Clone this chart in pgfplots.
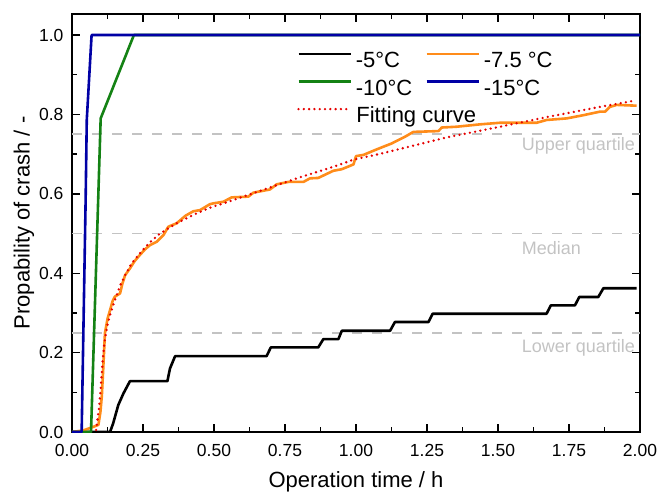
\documentclass[border=0pt]{standalone}
\usepackage{fontspec}
\setmainfont{Liberation Sans}
\usepackage{pgfplots}
\pgfplotsset{compat=1.18}
\definecolor{corange}{RGB}{255,140,26}
\definecolor{cgreen}{RGB}{20,130,20}
\definecolor{cblue}{RGB}{0,0,165}
\definecolor{cred}{RGB}{230,0,0}
\definecolor{cgray}{RGB}{195,195,195}

\begin{document}
\begin{tikzpicture}
\path[use as bounding box] (-72pt,-60pt) rectangle (588pt,432pt);
\begin{axis}[
  at={(0pt,0pt)}, anchor=south west,
  width=568pt, height=418pt, scale only axis,
  xmin=0, xmax=2, ymin=0, ymax=1.053,
  xtick={0,0.25,0.5,0.75,1,1.25,1.5,1.75,2},
  ytick={0,0.2,0.4,0.6,0.8,1},
  minor x tick num=1, minor y tick num=1,
  tick align=inside,
  major tick length=8pt, minor tick length=5pt,
  xticklabel style={yshift=-9pt, /pgf/number format/.cd, fixed, fixed zerofill, precision=2},
  yticklabel style={xshift=-5pt, /pgf/number format/.cd, fixed, fixed zerofill, precision=1},
  /pgf/number format/assume math mode=true,
  tick label style={font=\fontsize{17.5}{20}\selectfont},
  label style={font=\fontsize{22}{26}\selectfont},
  xlabel={Operation time / h},
  ylabel={Propability of crash / -},
  xlabel style={at={(axis description cs:0.5,-0.12)}, anchor=center},
  ylabel style={at={(axis description cs:-0.0845,0.5)}, anchor=center},
  axis line style={line width=1.6pt},
  every tick/.style={black, line width=1.4pt},
  legend columns=2,
  legend cell align=left,
  legend style={draw=none, fill=none, inner sep=0pt, outer sep=0pt,
    at={(axis cs:0.793,0.957)}, anchor=north west, row sep=7.5pt,
    nodes={inner sep=0pt, text height=15.5pt, text depth=4.5pt},
    font=\fontsize{22}{26}\selectfont,
    /tikz/every odd column/.append style={column sep=4pt},
    /tikz/every even column/.append style={column sep=13pt}},
  legend image code/.code={\draw[#1] (0pt,8pt) -- (52pt,8pt);},
]
% quartile guide lines
\addplot[cgray, line width=1.7pt, dash pattern=on 10pt off 10pt, forget plot] coordinates {(0,0.25) (2,0.25)};
\addplot[cgray, line width=1.7pt, dash pattern=on 10pt off 10pt, forget plot] coordinates {(0,0.5) (2,0.5)};
\addplot[cgray, line width=1.7pt, dash pattern=on 10pt off 10pt, forget plot] coordinates {(0,0.75) (2,0.75)};

% -5 C
\addplot[black, line width=2.6pt, line join=round] coordinates {
(0,0) (0.134,0) (0.145,0.022) (0.163,0.068) (0.181,0.097) (0.204,0.128)
(0.336,0.128) (0.345,0.16) (0.363,0.191) (0.685,0.191) (0.70,0.213)
(0.867,0.213) (0.885,0.234) (0.938,0.234) (0.95,0.255) (1.12,0.255)
(1.137,0.277) (1.255,0.277) (1.27,0.298) (1.671,0.298) (1.686,0.319)
(1.771,0.319) (1.786,0.340) (1.853,0.340) (1.871,0.362) (1.988,0.362)};

% -7.5 C
\addplot[corange, line width=2.6pt, line join=round] coordinates {
(0,0) (0.04,0.004) (0.075,0.013) (0.093,0.018) (0.10,0.05) (0.105,0.09)
(0.11,0.16) (0.116,0.249) (0.125,0.285) (0.134,0.307) (0.143,0.33)
(0.151,0.341) (0.169,0.349) (0.178,0.375) (0.187,0.395) (0.204,0.412)
(0.22,0.43) (0.239,0.446) (0.257,0.46) (0.275,0.471) (0.298,0.479)
(0.322,0.496) (0.339,0.517) (0.369,0.526) (0.40,0.545) (0.427,0.556)
(0.451,0.559) (0.486,0.574) (0.498,0.576) (0.533,0.580) (0.562,0.591)
(0.621,0.593) (0.639,0.603) (0.697,0.611) (0.721,0.624) (0.762,0.630)
(0.815,0.630) (0.838,0.639) (0.867,0.640) (0.92,0.658) (0.95,0.662)
(0.991,0.674) (1.0,0.695) (1.026,0.698) (1.073,0.712) (1.126,0.727)
(1.173,0.744) (1.202,0.756) (1.29,0.758) (1.302,0.767) (1.354,0.769)
(1.437,0.775) (1.507,0.779) (1.636,0.779) (1.671,0.786) (1.742,0.790)
(1.80,0.798) (1.859,0.807) (1.877,0.807) (1.894,0.819) (1.918,0.824)
(1.988,0.822)};

% -10 C
\addplot[cgreen, line width=2.6pt, line join=round] coordinates {
(0,0) (0.067,0) (0.101,0.79) (0.218,1.0) (2.0,1.0)};

% -15 C
\addplot[cblue, line width=2.6pt, line join=round] coordinates {
(0,0) (0.034,0) (0.048,0.584) (0.052,0.786) (0.069,1.0) (2.0,1.0)};

% fitting curve
\addplot[cred, line width=2.6pt, line cap=round, dash pattern=on 0pt off 5.3pt] coordinates {
(0.085,0.005) (0.095,0.06) (0.10,0.10) (0.108,0.18) (0.115,0.23)
(0.125,0.27) (0.134,0.295) (0.15,0.33) (0.17,0.37) (0.187,0.395)
(0.21,0.425) (0.239,0.45) (0.27,0.475) (0.31,0.50) (0.369,0.526)
(0.43,0.548) (0.486,0.565) (0.55,0.58) (0.685,0.613) (0.8,0.641)
(0.92,0.668) (0.991,0.686) (1.08,0.70) (1.155,0.713) (1.319,0.742)
(1.507,0.769) (1.67,0.793) (1.859,0.819) (1.976,0.834)};

\legend{-5°C, -7.5 °C, -10°C, -15°C, \rlap{Fitting curve}}

\node[anchor=west, text=cgray, inner sep=0pt, font=\fontsize{18}{20}\selectfont] at (axis cs:1.583,0.721) {Upper quartile};
\node[anchor=west, text=cgray, inner sep=0pt, font=\fontsize{18}{20}\selectfont] at (axis cs:1.583,0.463) {Median};
\node[anchor=west, text=cgray, inner sep=0pt, font=\fontsize{18}{20}\selectfont] at (axis cs:1.583,0.211) {Lower quartile};
\end{axis}
\end{tikzpicture}
\end{document}
